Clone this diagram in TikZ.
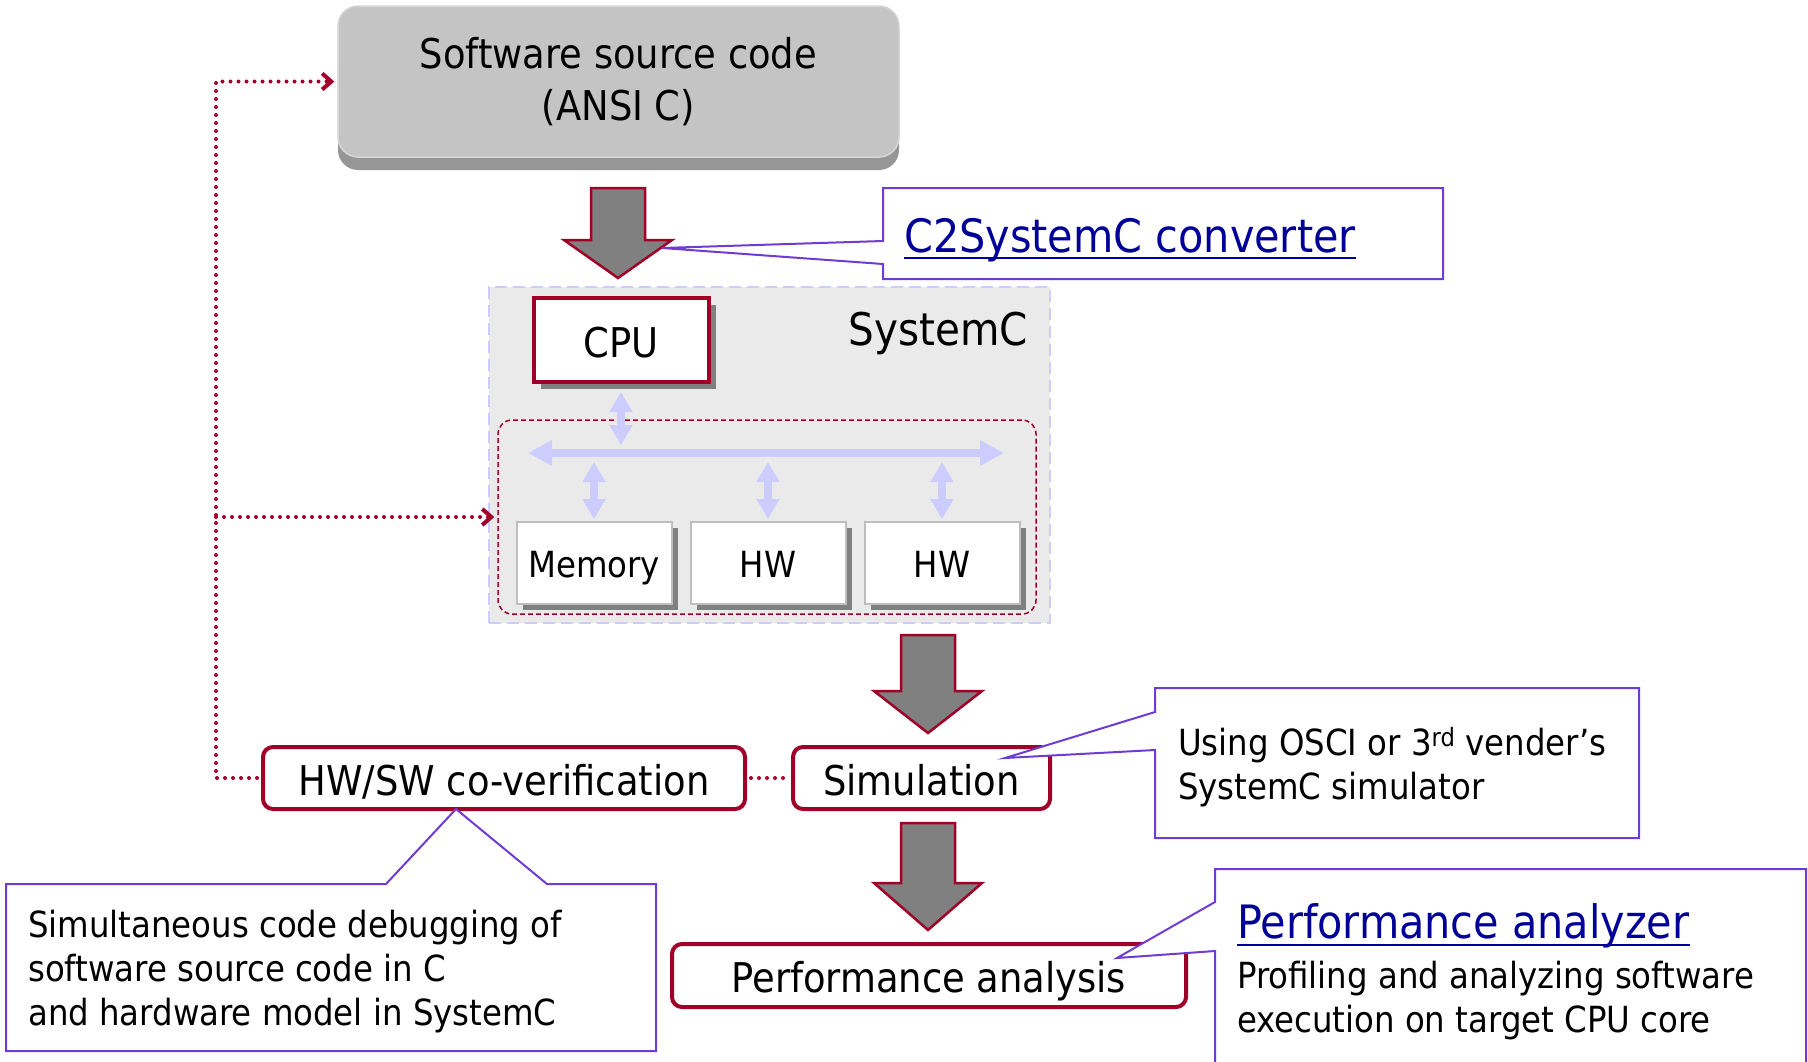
\documentclass[tikz,border=0pt]{standalone}
\usepackage{fontspec}
\setmainfont{DejaVu Sans Condensed}
\usetikzlibrary{positioning}
\usetikzlibrary{calc}
\usetikzlibrary{arrows.meta}
\usetikzlibrary{shadows}

\definecolor{darkred}{RGB}{160,0,40}
\definecolor{calloutviolet}{RGB}{110,60,210}
\definecolor{linkblue}{RGB}{0,0,153}
\definecolor{buslav}{RGB}{204,204,255}
\definecolor{syscgray}{RGB}{234,234,234}
\definecolor{srcgray}{RGB}{196,196,196}
\definecolor{srcedge}{RGB}{214,214,214}
\definecolor{srcshade}{RGB}{150,150,150}
\definecolor{boxedge}{RGB}{190,190,190}
\definecolor{shadowgray}{RGB}{128,128,128}

% x, top of shaft, base of head, tip
\newcommand{\blockdown}[4]{%
  \draw[blockarrow] (#1-27,#2) -- (#1+27,#2) -- (#1+27,#3) -- (#1+54,#3)
    -- (#1,#4) -- (#1-54,#3) -- (#1-27,#3) -- cycle;}

\begin{document}
\begin{tikzpicture}[x=1pt,y=-1pt,
    srcbox/.style={draw=srcedge, line width=1.5pt, fill=srcgray, rounded corners=20pt,
      align=center, font=\fontsize{41}{52}\selectfont,
      drop shadow={shadow xshift=0pt, shadow yshift=-13pt, fill=srcshade, opacity=1}},
    syscbox/.style={fill=syscgray, draw=buslav, line width=2pt, dash pattern=on 12pt off 6pt, inner sep=0pt},
    busbox/.style={draw=darkred, line width=1.5pt, dash pattern=on 5pt off 3pt, rounded corners=14pt, inner sep=0pt},
    cpubox/.style={draw=darkred, line width=4pt, fill=white, inner sep=0pt,
      font=\fontsize{41}{50}\selectfont, text height=34pt, text depth=0pt,
      drop shadow={shadow xshift=7pt, shadow yshift=-7pt, fill=shadowgray, opacity=1}},
    hwbox/.style={draw=boxedge, line width=2pt, fill=white, inner sep=0pt,
      font=\fontsize{36}{44}\selectfont, text height=29pt, text depth=0pt,
      drop shadow={shadow xshift=6pt, shadow yshift=-6pt, fill=shadowgray, opacity=1}},
    procbox/.style={draw=darkred, line width=4pt, rounded corners=10pt, fill=white, inner sep=0pt,
      font=\fontsize{41}{50}\selectfont, text height=34pt, text depth=0pt},
    busline/.style={buslav, line width=8pt,
      arrows={Triangle[width=24pt,length=24pt]-Triangle[width=24pt,length=24pt]}},
    busstub/.style={buslav, line width=8pt,
      arrows={Triangle[width=22pt,length=20pt]-Triangle[width=22pt,length=20pt]}},
    blockarrow/.style={fill=shadowgray, draw=darkred, line width=2.5pt, line join=miter},
    dotline/.style={darkred, line width=4pt, line cap=round, dash pattern=on 0pt off 8pt},
    dottip/.style={-{Straight Barb[length=9pt,width=16pt,line width=4pt]}},
    calloutline/.style={draw=calloutviolet, line width=2pt, fill=white, line join=miter},
    calltitle/.style={linkblue, inner sep=0pt, font=\fontsize{46}{54}\selectfont},
    calltext/.style={inner sep=0pt, align=left, font=\fontsize{36}{44}\selectfont}]

    \useasboundingbox (0,0) rectangle (1808,1061);

    \node[srcbox, minimum width=561pt, minimum height=151pt] (src) at (618.5,81.5) {Software source code\\(ANSI C)};

    \node[syscbox, minimum width=561pt, minimum height=336pt] (sysc) at (769.5,455) {};
    \node[anchor=base east, inner sep=0pt, font=\fontsize{45}{54}\selectfont] (sysclabel) at (1028,345) {SystemC};
    \node[busbox, minimum width=538pt, minimum height=194pt] (busarea) at (767,517) {};

    \coordinate (busL) at (528,453);
    \coordinate (busR) at (1004,453);
    \draw[busline] (busL) -- (busR);

    \node[cpubox, minimum width=175pt, minimum height=84pt] (cpu) at (621,340) {CPU};
    \node[hwbox, minimum width=155pt, minimum height=82pt] (mem) at (594,563) {Memory};
    \node[hwbox, minimum width=155pt, minimum height=82pt] (hwa) at (768,563) {HW};
    \node[hwbox, minimum width=155pt, minimum height=82pt] (hwb) at (942,563) {HW};

    \draw[busstub] ([yshift=-8pt]cpu.south) -- ([yshift=8pt]cpu.south |- busL);
    \foreach \b in {mem,hwa,hwb}
        \draw[busstub] ([yshift=-9pt]\b.north |- busL) -- ([yshift=2pt]\b.north);

    \blockdown{618}{188}{240}{278}
    \blockdown{928}{635}{691}{733}
    \blockdown{928}{823}{883}{930}

    \node[procbox, minimum width=482pt, minimum height=62pt] (cover) at (504,778) {HW/SW co-verification};
    \node[procbox, minimum width=257pt, minimum height=62pt] (sim) at (921.5,778) {Simulation};
    \node[procbox, minimum width=514pt, minimum height=63pt] (perf) at (929,975.5) {Performance analysis};

    \coordinate (loop) at (216,778);
    \draw[dotline, dottip] ([xshift=-4pt]cover.west) -- (loop) |- ([xshift=-3pt]src.west);
    \draw[dotline, dottip] (loop |- busarea.west) -- ([xshift=-3pt]busarea.west);
    \draw[dotline] ([xshift=4pt]cover.east) -- ([xshift=-4pt]sim.west);

    \draw[calloutline] (883,188) -- (1443,188) -- (1443,279) -- (883,279) -- (883,264)
        -- (662,248) -- (883,241) -- cycle;
    \node[calltitle, anchor=base west] (conv) at (904,252) {C2SystemC converter};
    \draw[linkblue, line width=2.5pt] ([yshift=-6pt]conv.base west) -- ([yshift=-6pt]conv.base east);

    \draw[calloutline] (1155,688) -- (1639,688) -- (1639,838) -- (1155,838) -- (1155,750)
        -- (1005,758) -- (1155,712) -- cycle;
    \node[calltext, anchor=north west] (osci) at (1178,727.5) {Using OSCI or 3\textsuperscript{rd} vender’s\\SystemC simulator};

    \draw[calloutline] (1215,869) -- (1806,869) -- (1806,1075) -- (1215,1075) -- (1215,951)
        -- (1117,958) -- (1215,902) -- cycle;
    \node[calltitle, anchor=base west] (analyzer) at (1237,938) {Performance analyzer};
    \draw[linkblue, line width=2.5pt] ([yshift=-7pt]analyzer.base west) -- ([yshift=-7pt]analyzer.base east);
    \node[calltext, anchor=north west] (profile) at (1237,960.5) {Profiling and analyzing software\\execution on target CPU core};

    \draw[calloutline] (6,884) -- (386,884) -- (456,809) -- (547,884) -- (656,884)
        -- (656,1051) -- (6,1051) -- cycle;
    \node[calltext, anchor=north west] (debug) at (28,909.5) {Simultaneous code debugging of\\software source code in C\\and hardware model in SystemC};
\end{tikzpicture}
\end{document}
